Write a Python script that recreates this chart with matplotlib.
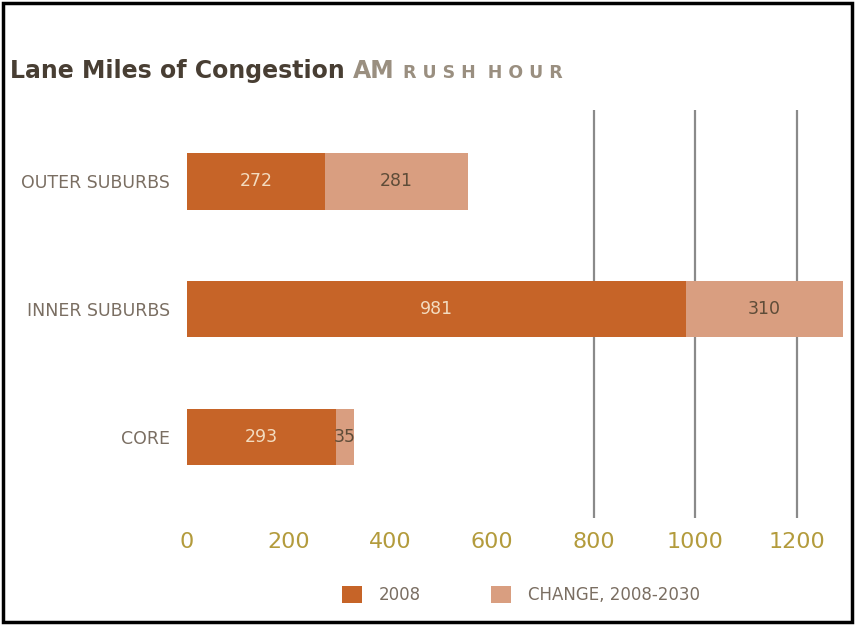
import numpy as np
import matplotlib
matplotlib.use("Agg")
import matplotlib.pyplot as plt
from matplotlib.patches import Rectangle

categories = ["OUTER SUBURBS", "INNER SUBURBS", "CORE"]
base_2008 = [272, 981, 293]
change = [281, 310, 35]
xticks = [0, 200, 400, 600, 800, 1000, 1200]
series_names = ["2008", "CHANGE, 2008-2030"]

dark = "#c66428"
light = "#d99e80"
label_col = "#7a6e62"
tick_col = "#b39b3c"

fig = plt.figure(figsize=(8.55, 6.28), dpi=100)
ax = fig.add_axes([187 / 855, 1 - 518 / 628, 661 / 855, 408 / 628])

y = np.arange(len(categories))
h = 0.445
b1 = ax.barh(y, base_2008, height=h, color=dark, zorder=3, label=series_names[0])
b2 = ax.barh(y, change, left=base_2008, height=h, color=light, zorder=3,
             label=series_names[1])

for rect, v in zip(b1, base_2008):
    ax.text(rect.get_x() + rect.get_width() / 2, rect.get_y() + h / 2, str(v),
            ha="center", va="center", color="#f3dcc0", fontsize=12.5, zorder=4)
for rect, v in zip(b2, change):
    ax.text(rect.get_x() + rect.get_width() / 2, rect.get_y() + h / 2, str(v),
            ha="center", va="center", color="#5e4c38", fontsize=12.5, zorder=4)

ax.set_xlim(0, 1300)
ax.set_ylim(2.633, -0.555)
ax.set_xticks(xticks)
ax.set_xticklabels([str(t) for t in xticks], color=tick_col, fontsize=16)
ax.set_yticks(y)
ax.set_yticklabels(categories, color=label_col, fontsize=12.5)
ax.tick_params(axis="both", length=0)
ax.tick_params(axis="x", pad=10)
ax.tick_params(axis="y", pad=12)
for s in ax.spines.values():
    s.set_visible(False)

ax.xaxis.grid(True, color="#8a8a8a", linewidth=1.6, zorder=1)
for t, gl in zip(xticks, ax.get_xgridlines()):
    if t < 800:
        gl.set_visible(False)

fig.legend(handles=[b1, b2], labels=series_names, loc="center",
           bbox_to_anchor=(521 / 855, 1 - 595 / 628), ncol=2, frameon=False,
           fontsize=12, labelcolor=label_col, handlelength=1.2, handleheight=1.2,
           columnspacing=4.2, handletextpad=1.0)

# title in two parts
t1 = fig.text(10 / 855, 1 - 78 / 628, "Lane Miles of Congestion", fontsize=17,
              fontweight="bold", color="#483e33", ha="left", va="baseline")
fig.canvas.draw()
bb = t1.get_window_extent()
t2 = fig.text((bb.x1 + 8) / 855, 1 - 78 / 628, "AM", fontsize=17,
              fontweight="bold", color="#9a8f80", ha="left", va="baseline")
fig.canvas.draw()
bb2 = t2.get_window_extent()
fig.text((bb2.x1 + 9) / 855, 1 - 78 / 628, "R U S H  H O U R", fontsize=12.5,
         fontweight="bold", color="#9a8f80", ha="left", va="baseline")

fig.patches.append(Rectangle((3 / 855, 6 / 628), 849 / 855, 619 / 628,
                             transform=fig.transFigure, fill=False,
                             edgecolor="black", linewidth=2.5))

fig.savefig("out.png", dpi=100)
